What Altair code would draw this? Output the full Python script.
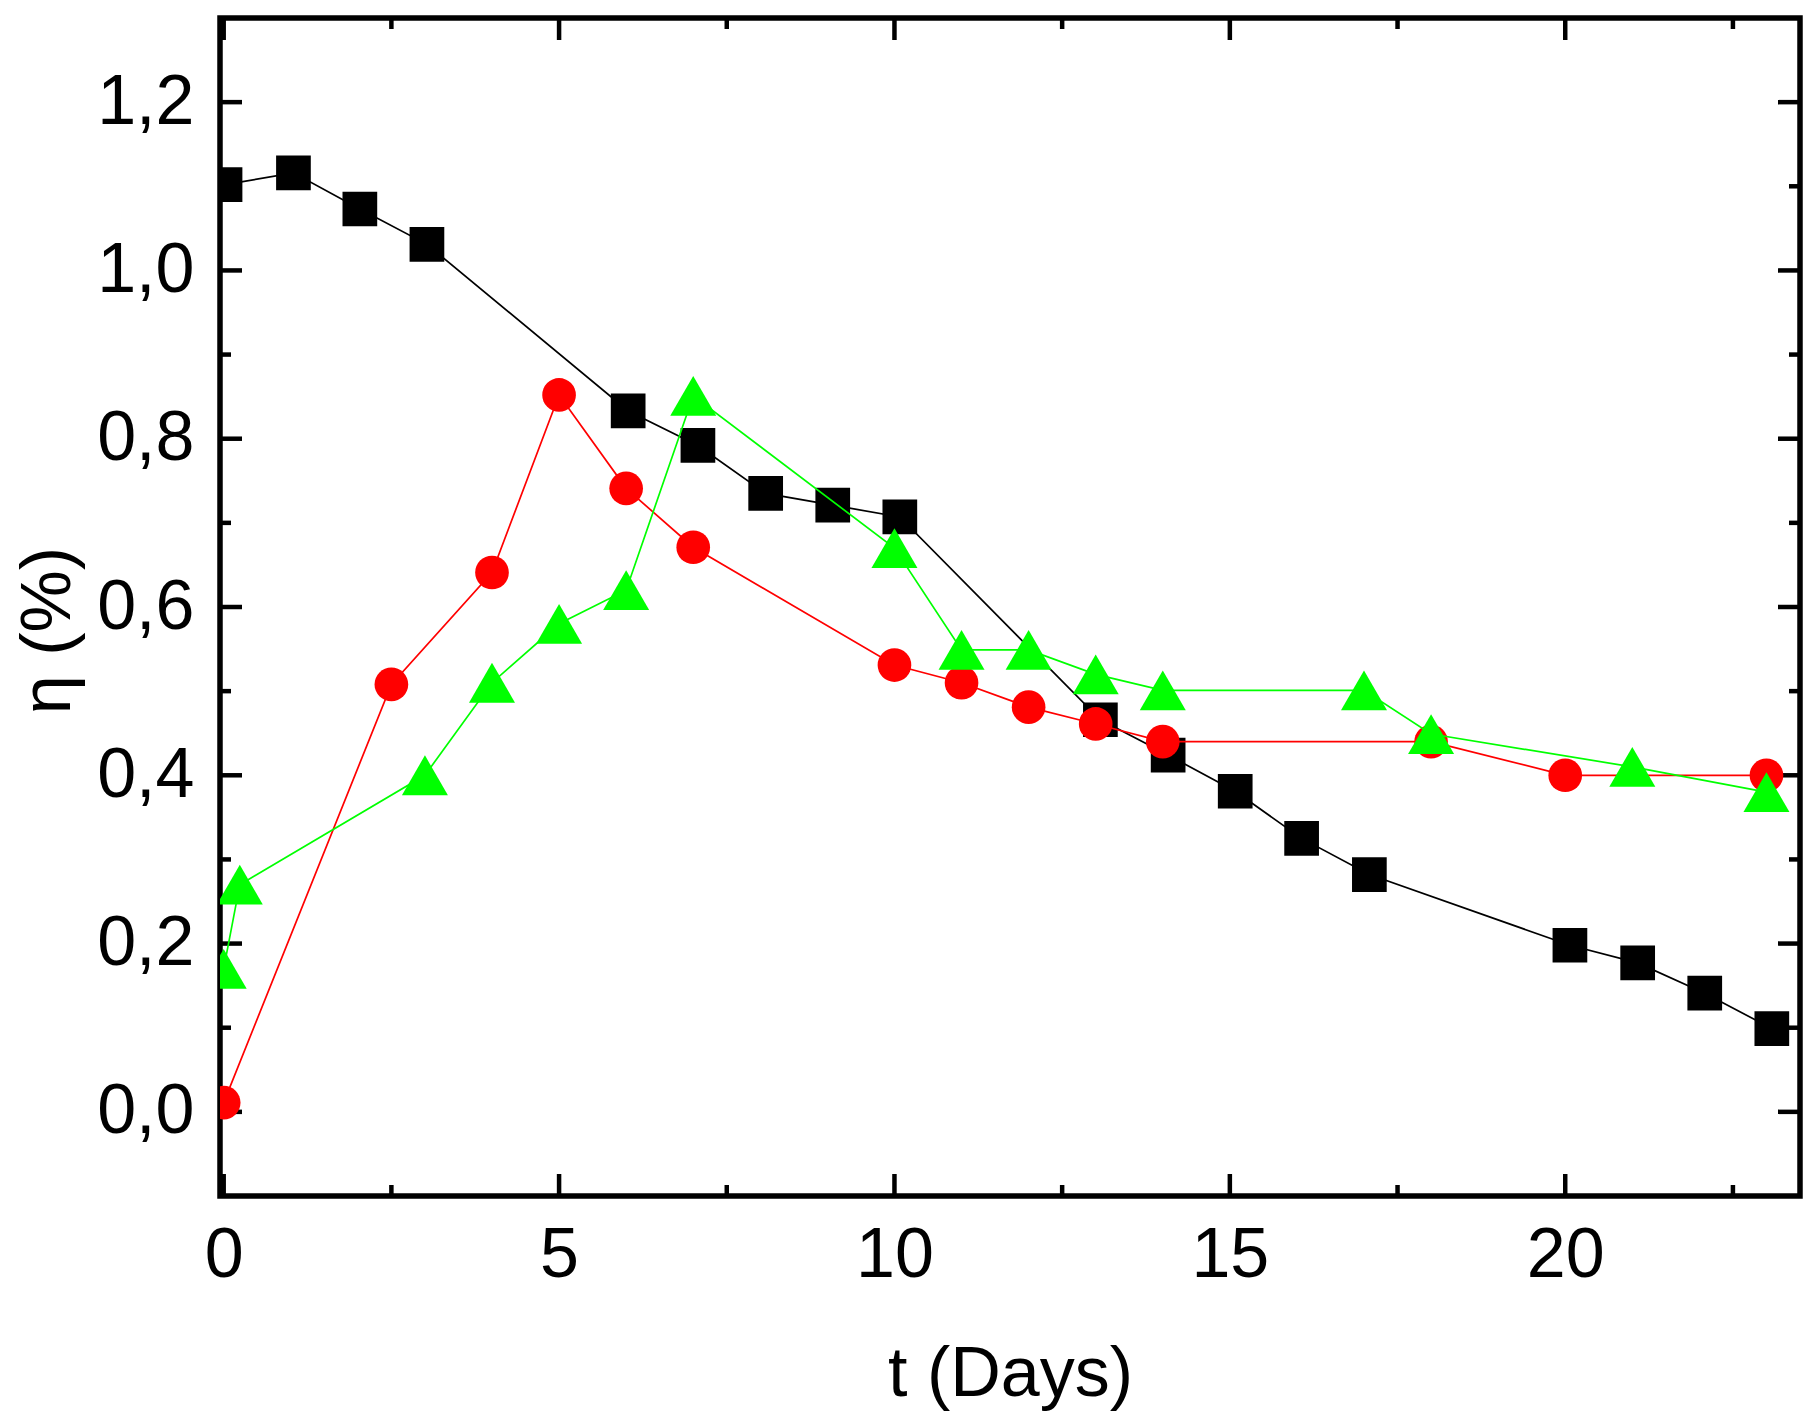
import altair as alt
import pandas as pd

# black squares
square_t = [0.02, 1.04, 2.03, 3.03, 6.03, 7.07, 8.08, 9.08, 10.08,
            13.07, 14.08, 15.08, 16.07, 17.08, 20.07, 21.08, 22.08, 23.08]
square_eta = [1.102, 1.116, 1.073, 1.031, 0.833, 0.792, 0.735, 0.721, 0.707,
              0.466, 0.424, 0.381, 0.325, 0.282, 0.198, 0.177, 0.141, 0.099]

# red circles
circle_t = [0, 2.5, 4, 5, 6, 7, 10, 11, 12, 13, 14, 18, 20, 23]
circle_eta = [0.011, 0.508, 0.641, 0.852, 0.741, 0.671, 0.531, 0.510,
              0.481, 0.461, 0.440, 0.440, 0.400, 0.400]

# green triangles
triangle_t = [0, 0.24, 3, 4, 5, 6, 7, 10, 11, 12, 13, 14, 17, 18, 21, 23]
triangle_eta = [0.170, 0.270, 0.400, 0.510, 0.580, 0.620, 0.851, 0.670,
                0.549, 0.549, 0.520, 0.501, 0.501, 0.449, 0.410, 0.380]

x_major = [0, 5, 10, 15, 20]
x_minor = [2.5, 7.5, 12.5, 17.5, 22.5]
y_major = [0.0, 0.2, 0.4, 0.6, 0.8, 1.0, 1.2]
y_minor = [0.1, 0.3, 0.5, 0.7, 0.9, 1.1]

W, H = 1580, 1178
FONT = "Liberation Sans"
MAJOR, MINOR = 22, 11

x_scale = alt.Scale(domain=[-0.055, 23.5], nice=False, zero=False)
y_scale = alt.Scale(domain=[-0.1, 1.3], nice=False, zero=False)

x_axis = alt.Axis(values=x_major, format="d", title="t (Days)",
                  labelPadding=25, titlePadding=50)
y_axis = alt.Axis(values=y_major, title="η (%)",
                  labelExpr="replace(format(datum.value, '.1f'), '.', ',')",
                  labelPadding=26, titlePadding=12, titleY=612)


def enc_x():
    return alt.X("t:Q", scale=x_scale, axis=x_axis)


def enc_y():
    return alt.Y("eta:Q", scale=y_scale, axis=y_axis)


def y_ticks(values, length):
    df = pd.DataFrame({"eta": values})
    left = alt.Chart(df).mark_rule(color="black", strokeWidth=4.5).encode(
        y=enc_y(), x=alt.value(0), x2=alt.value(length))
    right = alt.Chart(df).mark_rule(color="black", strokeWidth=4.5).encode(
        y=enc_y(), x=alt.value(W), x2=alt.value(W - length))
    return [left, right]


def x_ticks(values, length):
    df = pd.DataFrame({"t": values})
    bottom = alt.Chart(df).mark_rule(color="black", strokeWidth=4.5).encode(
        x=enc_x(), y=alt.value(H), y2=alt.value(H - length))
    top = alt.Chart(df).mark_rule(color="black", strokeWidth=4.5).encode(
        x=enc_x(), y=alt.value(0), y2=alt.value(length))
    return [bottom, top]


def series(t, eta, color, shape, size):
    df = pd.DataFrame({"t": t, "eta": eta})
    line = alt.Chart(df).mark_line(color=color, strokeWidth=1.7, clip=True).encode(
        x=enc_x(), y=enc_y())
    pts = alt.Chart(df).mark_point(shape=shape, filled=True, opacity=1, color=color,
                                   size=size, strokeWidth=0, clip=True).encode(
        x=enc_x(), y=enc_y())
    return [line, pts]


layers = (y_ticks(y_major, MAJOR) + y_ticks(y_minor, MINOR)
          + x_ticks(x_major, MAJOR) + x_ticks(x_minor, MINOR)
          + series(square_t, square_eta, "#000000", "square", 1204)
          + series(circle_t, circle_eta, "#ff0000", "circle", 1134)
          + series(triangle_t, triangle_eta, "#00ff00", "triangle-up", 2116))

chart = alt.layer(*layers).properties(
    width=W,
    height=H,
    autosize=alt.AutoSizeParams(type="none"),
    padding={"left": 212, "top": 10, "right": 5, "bottom": 220},
    background="white",
).configure_view(
    stroke="black", strokeWidth=5.5
).configure_axis(
    domain=False, ticks=False, grid=False,
    labelFont=FONT, labelFontSize=70, labelColor="black",
    titleFont=FONT, titleFontSize=70, titleFontWeight="normal", titleColor="black",
)

chart.save("out.html", embed_options={"renderer": "svg", "actions": False})
